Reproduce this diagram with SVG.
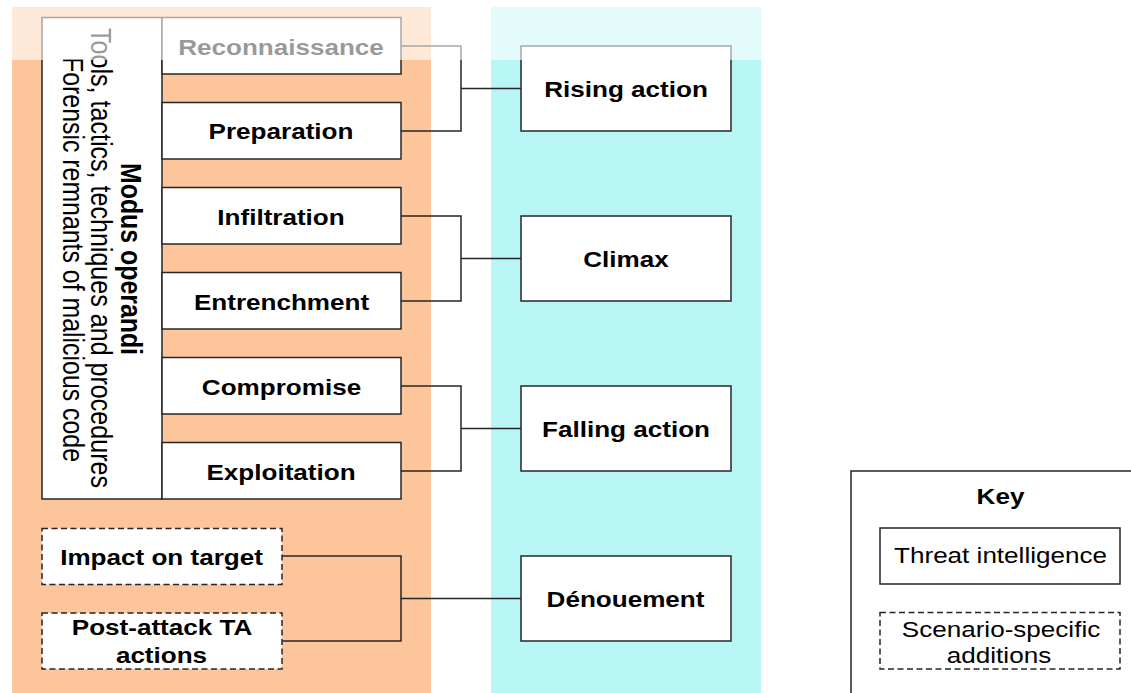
<svg xmlns="http://www.w3.org/2000/svg" width="1131" height="693" viewBox="0 0 1131 693">
  <style>
    .box { fill: #ffffff; stroke: #262626; stroke-width: 1.5; }
    .dash { fill: #ffffff; stroke: #262626; stroke-width: 1.5; stroke-dasharray: 6 3.5; }
    .lbl { font-family: "Liberation Sans", Arial, sans-serif; font-size: 22px; font-weight: bold; fill: #000000; text-anchor: middle; }
    .reg { font-family: "Liberation Sans", Arial, sans-serif; font-size: 22px; fill: #000000; text-anchor: middle; }
    .rot { font-family: "Liberation Sans", Arial, sans-serif; font-size: 25px; fill: #000000; text-anchor: middle; }
    .wire { fill: none; stroke: #262626; stroke-width: 1.5; }
  </style>

  <rect width="1131" height="693" fill="#ffffff"/>

  <!-- background bands -->
  <rect id="band-attack" x="12" y="7" width="419" height="700" fill="#fcc59b"/>
  <rect id="band-story" x="491" y="7" width="270" height="700" fill="#b8f5f5"/>

  <!-- connectors -->
  <g id="connectors" class="wire">
    <polyline points="401,46 461,46 461,131 401,131"/>
    <line x1="461" y1="88.5" x2="521" y2="88.5"/>
    <polyline points="401,216 461,216 461,301 401,301"/>
    <line x1="461" y1="258.5" x2="521" y2="258.5"/>
    <polyline points="401,386 461,386 461,471 401,471"/>
    <line x1="461" y1="428.5" x2="521" y2="428.5"/>
    <polyline points="282,556 401,556 401,641 282,641"/>
    <line x1="401" y1="598.5" x2="521" y2="598.5"/>
  </g>

  <!-- modus operandi column -->
  <g id="modus-operandi">
    <rect class="box" x="42" y="17.5" width="120" height="481.5"/>
    <text class="rot" font-weight="bold" textLength="192" lengthAdjust="spacingAndGlyphs" transform="translate(121,259) scale(1.15,1) rotate(90)">Modus operandi</text>
    <text class="rot" textLength="460" lengthAdjust="spacingAndGlyphs" transform="translate(91,258) scale(1.15,1) rotate(90)">Tools, tactics, techniques and procedures</text>
    <text class="rot" textLength="405" lengthAdjust="spacingAndGlyphs" transform="translate(63,259.5) scale(1.15,1) rotate(90)">Forensic remnants of malicious code</text>
  </g>

  <!-- attack phases -->
  <g id="reconnaissance">
    <rect class="box" x="162" y="17.5" width="239" height="56.5"/>
    <text class="lbl" transform="translate(281,54.5) scale(1.185,1)">Reconnaissance</text>
  </g>
  <g id="preparation">
    <rect class="box" x="162" y="102.5" width="239" height="56.5"/>
    <text class="lbl" transform="translate(281,139) scale(1.185,1)">Preparation</text>
  </g>
  <g id="infiltration">
    <rect class="box" x="162" y="187.5" width="239" height="56.5"/>
    <text class="lbl" transform="translate(281,225) scale(1.185,1)">Infiltration</text>
  </g>
  <g id="entrenchment">
    <rect class="box" x="162" y="272.5" width="239" height="56.5"/>
    <text class="lbl" transform="translate(281.5,310) scale(1.185,1)">Entrenchment</text>
  </g>
  <g id="compromise">
    <rect class="box" x="162" y="357.5" width="239" height="56.5"/>
    <text class="lbl" transform="translate(281.5,395) scale(1.185,1)">Compromise</text>
  </g>
  <g id="exploitation">
    <rect class="box" x="162" y="442.5" width="239" height="56.5"/>
    <text class="lbl" transform="translate(281,480) scale(1.185,1)">Exploitation</text>
  </g>

  <!-- scenario-specific additions -->
  <g id="impact-on-target">
    <rect class="dash" x="42" y="528.5" width="240" height="56"/>
    <text class="lbl" transform="translate(161.5,564.5) scale(1.185,1)">Impact on target</text>
  </g>
  <g id="post-attack-actions">
    <rect class="dash" x="42" y="613" width="240" height="56"/>
    <text class="lbl" transform="translate(162,635) scale(1.185,1)">Post-attack TA</text>
    <text class="lbl" transform="translate(161.5,663) scale(1.185,1)">actions</text>
  </g>

  <!-- narrative stages -->
  <g id="rising-action">
    <rect class="box" x="521" y="46" width="210" height="85"/>
    <text class="lbl" transform="translate(626,97) scale(1.185,1)">Rising action</text>
  </g>
  <g id="climax">
    <rect class="box" x="521" y="216" width="210" height="85"/>
    <text class="lbl" transform="translate(626,267) scale(1.185,1)">Climax</text>
  </g>
  <g id="falling-action">
    <rect class="box" x="521" y="386" width="210" height="85"/>
    <text class="lbl" transform="translate(626,437) scale(1.185,1)">Falling action</text>
  </g>
  <g id="denouement">
    <rect class="box" x="521" y="556" width="210" height="85"/>
    <text class="lbl" transform="translate(625.5,607) scale(1.185,1)">Dénouement</text>
  </g>

  <!-- legend -->
  <g id="key">
    <rect class="box" x="851" y="471" width="300" height="250"/>
    <text class="lbl" transform="translate(1000.5,504) scale(1.185,1)">Key</text>
    <rect class="box" x="880" y="528" width="240" height="56"/>
    <text class="reg" transform="translate(1000.5,563) scale(1.185,1)">Threat intelligence</text>
    <rect class="dash" x="880" y="612.5" width="240" height="56.5"/>
    <text class="reg" transform="translate(1001,637) scale(1.185,1)">Scenario-specific</text>
    <text class="reg" transform="translate(999,663) scale(1.185,1)">additions</text>
  </g>

  <!-- faded top strip -->
  <rect x="0" y="0" width="1131" height="60" fill="#ffffff" opacity="0.6"/>
</svg>
